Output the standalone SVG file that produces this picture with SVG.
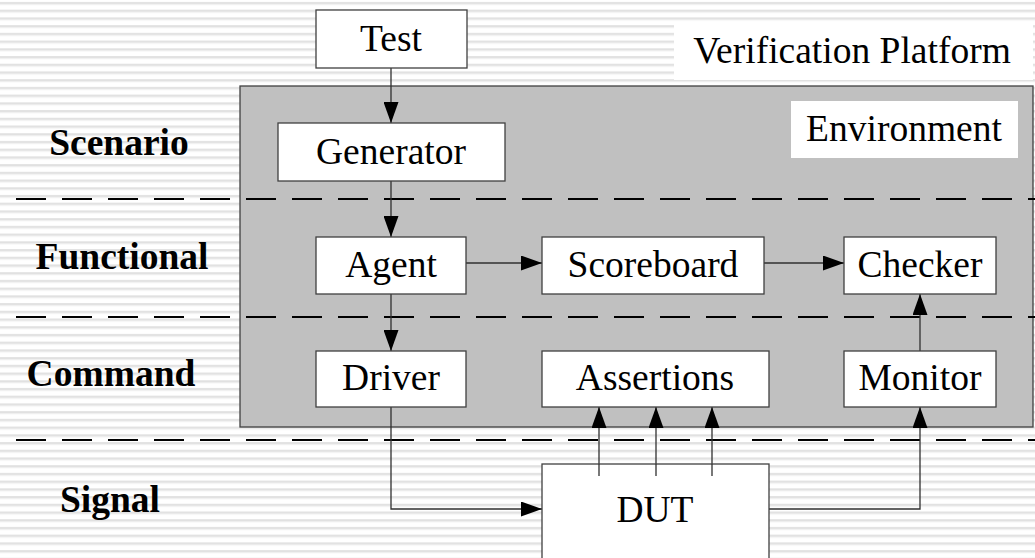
<svg xmlns="http://www.w3.org/2000/svg" width="1035" height="558" viewBox="0 0 1035 558">
  <defs>
    <pattern id="stripes" x="0" y="0" width="20" height="7.72" patternUnits="userSpaceOnUse">
      <rect x="0" y="0" width="20" height="7.72" fill="#ffffff"/>
      <rect x="0" y="2" width="20" height="2" fill="#e1e1e1"/>
      <rect x="0" y="4" width="20" height="1" fill="#eeeeee"/>
    </pattern>
    <marker id="arrow" markerUnits="userSpaceOnUse" markerWidth="22" markerHeight="15" refX="21" refY="7.5" orient="auto">
      <path d="M0,0 L21,7.5 L0,15 Z" fill="#000"/>
    </marker>
    <style>
      .box { fill: #ffffff; stroke: #404040; stroke-width: 1.3; }
      .lbl { font-family: "Liberation Serif", "Times New Roman", serif; font-size: 37.5px; fill: #000; text-anchor: middle; }
      .layer { font-family: "Liberation Serif", "Times New Roman", serif; font-size: 37.5px; font-weight: bold; fill: #000; text-anchor: middle; }
      .wire { fill: none; stroke: #303030; stroke-width: 1.3; }
      .sep { fill: none; stroke: #000; stroke-width: 2; stroke-dasharray: 30 16; }
    </style>
  </defs>

  <!-- striped backdrop -->
  <rect x="0" y="0" width="1035" height="558" fill="url(#stripes)"/>

  <!-- platform title -->
  <g id="platform-title">
    <rect x="674" y="23" width="359" height="57" fill="#ffffff"/>
    <text class="lbl" x="852" y="63">Verification Platform</text>
  </g>

  <!-- environment container -->
  <g id="environment">
    <rect x="240" y="86" width="793" height="341" fill="#c0c0c0" stroke="#404040" stroke-width="1.3"/>
    <rect x="791" y="101" width="227" height="57" fill="#ffffff"/>
    <text class="lbl" x="904" y="141">Environment</text>
  </g>

  <!-- layer separators -->
  <g id="separators">
    <line class="sep" x1="16" y1="199" x2="1035" y2="199"/>
    <line class="sep" x1="16" y1="317" x2="1035" y2="317"/>
    <line class="sep" x1="16" y1="440" x2="1035" y2="440"/>
  </g>

  <!-- layer names -->
  <g id="layers">
    <text class="layer" x="119" y="155">Scenario</text>
    <text class="layer" x="122" y="269">Functional</text>
    <text class="layer" x="111" y="386">Command</text>
    <text class="layer" x="110" y="512">Signal</text>
  </g>

  <!-- connectors -->
  <g id="connectors">
    <line class="wire" x1="391" y1="68" x2="391" y2="123" marker-end="url(#arrow)"/>
    <line class="wire" x1="391" y1="181" x2="391" y2="237" marker-end="url(#arrow)"/>
    <line class="wire" x1="466" y1="263" x2="542" y2="263" marker-end="url(#arrow)"/>
    <line class="wire" x1="764" y1="263" x2="844" y2="263" marker-end="url(#arrow)"/>
    <line class="wire" x1="391" y1="294" x2="391" y2="351" marker-end="url(#arrow)"/>
    <line class="wire" x1="920" y1="351" x2="920" y2="294" marker-end="url(#arrow)"/>
    <polyline class="wire" points="391,407 391,509 542,509" marker-end="url(#arrow)"/>
    <polyline class="wire" points="769,509 920,509 920,407" marker-end="url(#arrow)"/>
    <line class="wire" x1="599" y1="476" x2="599" y2="407" marker-end="url(#arrow)"/>
    <line class="wire" x1="656" y1="476" x2="656" y2="407" marker-end="url(#arrow)"/>
    <line class="wire" x1="712" y1="476" x2="712" y2="407" marker-end="url(#arrow)"/>
  </g>

  <!-- nodes -->
  <g id="test">
    <rect class="box" x="316" y="10" width="151" height="58"/>
    <text class="lbl" x="391" y="51">Test</text>
  </g>
  <g id="generator">
    <rect class="box" x="278" y="123" width="227" height="58"/>
    <text class="lbl" x="391" y="164">Generator</text>
  </g>
  <g id="agent">
    <rect class="box" x="316" y="237" width="150" height="57"/>
    <text class="lbl" x="391" y="277">Agent</text>
  </g>
  <g id="scoreboard">
    <rect class="box" x="542" y="237" width="222" height="57"/>
    <text class="lbl" x="653" y="277">Scoreboard</text>
  </g>
  <g id="checker">
    <rect class="box" x="844" y="237" width="152" height="57"/>
    <text class="lbl" x="920" y="277">Checker</text>
  </g>
  <g id="driver">
    <rect class="box" x="316" y="351" width="150" height="56"/>
    <text class="lbl" x="391" y="390">Driver</text>
  </g>
  <g id="assertions">
    <rect class="box" x="542" y="351" width="227" height="56"/>
    <text class="lbl" x="655" y="390">Assertions</text>
  </g>
  <g id="monitor">
    <rect class="box" x="844" y="351" width="152" height="56"/>
    <text class="lbl" x="920" y="390">Monitor</text>
  </g>
  <g id="dut">
    <rect class="box" x="542" y="464" width="227" height="100"/>
    <line class="wire" x1="599" y1="464" x2="599" y2="476"/>
    <line class="wire" x1="656" y1="464" x2="656" y2="476"/>
    <line class="wire" x1="712" y1="464" x2="712" y2="476"/>
    <text class="lbl" x="655" y="522">DUT</text>
  </g>
</svg>
